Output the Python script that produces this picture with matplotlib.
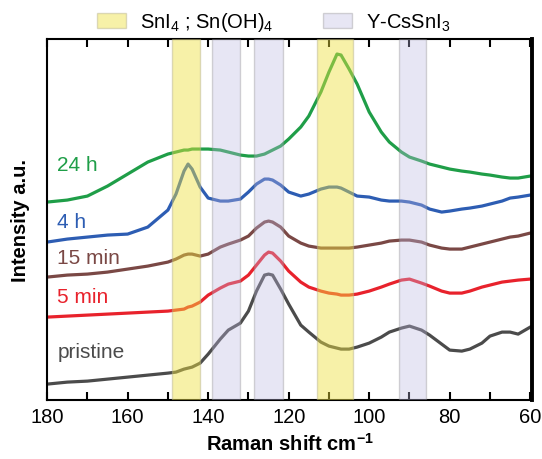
import matplotlib

matplotlib.use("Agg")
import matplotlib.pyplot as plt
from matplotlib.patches import Patch
from matplotlib.ticker import MultipleLocator

plt.rcParams["font.family"] = ["Liberation Sans", "DejaVu Sans"]
plt.rcParams["mathtext.fontset"] = "custom"
plt.rcParams["mathtext.rm"] = "Liberation Sans"
plt.rcParams["mathtext.bf"] = "Liberation Sans:bold"

# Raman shift (cm-1)
shift = [180, 175, 170, 165, 160, 155, 150, 148, 146, 145, 144, 142, 140, 137, 135, 132,
         130, 128, 126, 125, 124, 122, 120, 117, 115, 112, 110, 108, 107, 105, 103, 100,
         97, 95, 92, 90, 87, 85, 82, 80, 77, 75, 72, 70, 67, 65, 63, 60]

# intensities (a.u.), curves already offset as in the figure
h24 = [197, 199, 203, 213, 225, 237, 245, 247, 249, 249, 250, 250, 250, 249, 247, 244,
       243, 243, 245, 247, 249, 253, 260, 272, 283, 307, 327, 345, 344, 330, 315, 287,
       267, 257, 247, 242, 238, 235, 232, 230, 228, 227, 225, 224, 222, 221, 221, 223]
h4 = [157, 160, 162, 164, 165, 172, 189, 205, 228, 235, 230, 212, 201, 198, 198, 200,
      207, 215, 220, 220, 219, 214, 207, 203, 205, 210, 212, 212, 211, 207, 203, 202,
      199, 198, 198, 197, 194, 190, 187, 188, 190, 191, 193, 195, 198, 201, 202, 204]
min15 = [122, 124, 125, 127, 130, 133, 137, 140, 144, 145, 145, 143, 145, 152, 155, 159,
         163, 171, 177, 178, 177, 172, 163, 156, 153, 151, 151, 151, 151, 151, 152, 154,
         156, 158, 159, 159, 157, 154, 151, 150, 150, 152, 155, 157, 160, 162, 163, 166]
min5 = [82, 83, 84, 85, 86, 87, 88, 89, 90, 92, 93, 97, 104, 111, 115, 118,
        124, 134, 144, 147, 146, 138, 128, 117, 112, 108, 106, 105, 104, 104, 105, 108,
        112, 115, 119, 120, 116, 113, 108, 106, 106, 108, 112, 114, 117, 118, 119, 120]
pristine = [15, 17, 18, 20, 22, 24, 26, 27, 30, 31, 32, 36, 45, 60, 69, 76,
            88, 108, 124, 125, 124, 110, 95, 74, 67, 57, 53, 51, 50, 50, 52, 56,
            62, 67, 71, 73, 69, 64, 55, 49, 48, 50, 56, 63, 67, 67, 65, 72]

labels = ["24 h", "4 h", "15 min", "5 min", "pristine"]
label_y = [235, 178, 142, 103, 48]
colors = ["#1f9e48", "#2d5db3", "#7a4845", "#e8222c", "#4b4b4b"]

# highlighted regions (cm-1)
snI4_bands = [(142, 149), (104, 113)]
cssni3_bands = [(132, 139), (121.5, 128.5), (86, 92.5)]

fig = plt.figure(figsize=(5.42, 4.6), dpi=100)
ax = fig.add_axes([0.087, 0.128, 0.895, 0.785])

for ys, c in zip([h24, h4, min15, min5, pristine], colors):
    ax.plot(shift, ys, color=c, lw=2.3, solid_joinstyle="round", zorder=2)

for lo, hi in snI4_bands:
    ax.axvspan(lo, hi, facecolor="#efe23f", edgecolor="#b5b08a", lw=1, alpha=0.45, zorder=3)
for lo, hi in cssni3_bands:
    ax.axvspan(lo, hi, facecolor="#bdb8e0", edgecolor="#8a8a8a", lw=1, alpha=0.35, zorder=3)

for txt, y, c in zip(labels, label_y, colors):
    ax.text(177.5, y, txt, color=c, fontsize=15, va="center", ha="left")

ax.set_xlim(180, 59.5)
ax.set_ylim(-1, 360)
ax.set_yticks([])
ax.xaxis.set_major_locator(MultipleLocator(20))
ax.xaxis.set_minor_locator(MultipleLocator(10))
ax.tick_params(axis="x", which="both", direction="in", top=True, length=5.5, width=1.5,
               labelsize=14.5, pad=5)
for side in ["left", "top", "bottom"]:
    ax.spines[side].set_linewidth(1.5)
ax.spines["right"].set_linewidth(2.8)

ax.set_xlabel(r"Raman shift cm$^{\mathbf{-1}}$", fontsize=14.5, fontweight="bold", labelpad=4)
ax.set_ylabel("Intensity a.u.", fontsize=14.5, fontweight="bold", labelpad=12)

handles = [
    Patch(facecolor="#efe23f", edgecolor="#b5b08a", alpha=0.45),
    Patch(facecolor="#bdb8e0", edgecolor="#8a8a8a", alpha=0.35),
]
fig.legend(handles, ["SnI$_4$ ; Sn(OH)$_4$", "Y-CsSnI$_3$"], loc="center",
           bbox_to_anchor=(0.505, 0.95), ncol=2, frameon=False, fontsize=14.5,
           handlelength=1.4, handleheight=0.7, handletextpad=0.7, columnspacing=2.5)

fig.savefig("out.png", dpi=100)
